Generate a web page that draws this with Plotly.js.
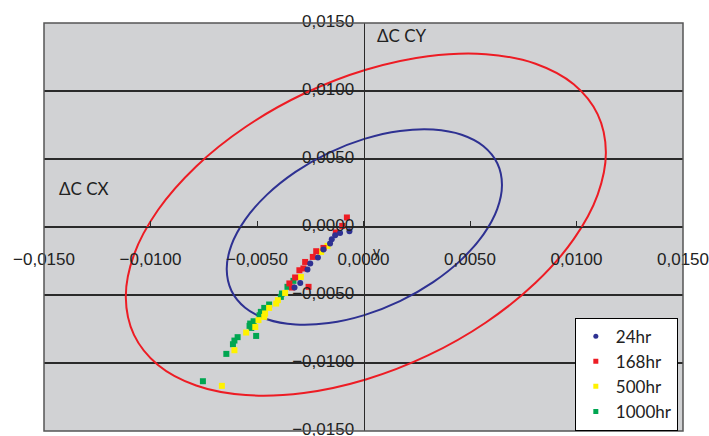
<!DOCTYPE html>
<html>
<head>
<meta charset="utf-8">
<script src="https://cdn.plot.ly/plotly-3.0.1.min.js"></script>
<style>html,body{margin:0;padding:0;background:#fff;}#chart{width:709px;height:436px;}</style>
</head>
<body>
<div id="chart"></div>
<script>
// Tick values (both axes)
var tickValues = [-0.015, -0.010, -0.005, 0.000, 0.005, 0.010, 0.015];

// Series: 24hr
var x24 = [-0.00066, -0.00110, -0.00133, -0.00149, -0.00157, -0.00188, -0.00214, -0.00250, -0.00263, -0.00297, -0.00324];
var y24 = [-0.00031, -0.00045, -0.00060, -0.00090, -0.00121, -0.00165, -0.00224, -0.00268, -0.00313, -0.00411, -0.00445];

// Series: 168hr
var x168 = [-0.00078, -0.00100, -0.00130, -0.00188, -0.00222, -0.00238, -0.00274, -0.00282, -0.00301, -0.00321, -0.00348, -0.00258, -0.00336];
var y168 = [0.00070, 0.00008, -0.00040, -0.00154, -0.00178, -0.00220, -0.00257, -0.00305, -0.00318, -0.00371, -0.00415, -0.00440, -0.00445];

// Series: 500hr
var x500 = [-0.00169, -0.00199, -0.00294, -0.00368, -0.00402, -0.00410, -0.00443, -0.00462, -0.00466, -0.00493, -0.00508, -0.00551, -0.00606, -0.00665];
var y500 = [-0.00139, -0.00183, -0.00367, -0.00485, -0.00538, -0.00563, -0.00595, -0.00636, -0.00661, -0.00685, -0.00735, -0.00776, -0.00906, -0.01168];

// Series: 1000hr
var x1000 = [-0.00329, -0.00357, -0.00383, -0.00388, -0.00443, -0.00466, -0.00482, -0.00488, -0.00516, -0.00532, -0.00535, -0.00527, -0.00504, -0.00591, -0.00606, -0.00613, -0.00644, -0.00754];
var y1000 = [-0.00396, -0.00440, -0.00489, -0.00514, -0.00570, -0.00595, -0.00624, -0.00649, -0.00693, -0.00710, -0.00727, -0.00742, -0.00801, -0.00810, -0.00835, -0.00862, -0.00933, -0.01134];

// Blue ellipse outline
var blueEllX = [0.006501, 0.006281, 0.005635, 0.004609, 0.003271, 0.001712, 0.000040, -0.001632, -0.003191, -0.004529, -0.005555, -0.006201, -0.006421, -0.006201, -0.005555, -0.004529, -0.003191, -0.001632, 0.000040, 0.001712, 0.003271, 0.004609, 0.005635, 0.006281];
var blueEllY = [0.003113, 0.001330, -0.000544, -0.002380, -0.004054, -0.005452, -0.006479, -0.007064, -0.007168, -0.006782, -0.005936, -0.004684, -0.003113, -0.001330, 0.000544, 0.002380, 0.004054, 0.005452, 0.006479, 0.007064, 0.007168, 0.006782, 0.005936, 0.004684];

// Red ellipse outline
var redEllX = [0.011379, 0.010995, 0.009869, 0.008078, 0.005745, 0.003026, 0.000110, -0.002806, -0.005525, -0.007858, -0.009649, -0.010775, -0.011159, -0.010775, -0.009649, -0.007858, -0.005525, -0.002806, 0.000110, 0.003026, 0.005745, 0.008078, 0.009869, 0.010995];
var redEllY = [0.005514, 0.002384, -0.000896, -0.004103, -0.007019, -0.009445, -0.011214, -0.012207, -0.012357, -0.011653, -0.010142, -0.007928, -0.005162, -0.002032, 0.001248, 0.004455, 0.007371, 0.009797, 0.011566, 0.012559, 0.012709, 0.012005, 0.010494, 0.008280];

function closed(a){ return a.concat([a[0]]); }

var sqSize = 6;
var traces = [
  {x: closed(redEllX), y: closed(redEllY), mode: 'lines', line: {color: '#ed1c24', width: 2, shape: 'spline'}, showlegend: false, hoverinfo: 'skip'},
  {x: closed(blueEllX), y: closed(blueEllY), mode: 'lines', line: {color: '#2e3192', width: 2, shape: 'spline'}, showlegend: false, hoverinfo: 'skip'},
  {x: x1000, y: y1000, name: '1000hr', mode: 'markers', marker: {symbol: 'square', size: sqSize, color: '#00a651'}, showlegend: false},
  {x: x500, y: y500, name: '500hr', mode: 'markers', marker: {symbol: 'square', size: sqSize, color: '#fff200'}, showlegend: false},
  {x: x168, y: y168, name: '168hr', mode: 'markers', marker: {symbol: 'square', size: sqSize, color: '#ed1c24'}, showlegend: false},
  {x: x24, y: y24, name: '24hr', mode: 'markers', marker: {symbol: 'circle', size: 6, color: '#2e3192'}, showlegend: false},
  // legend entries in reference order
  {x: [null], y: [null], name: '24hr', mode: 'markers', marker: {symbol: 'circle', size: 5, color: '#2e3192'}},
  {x: [null], y: [null], name: '168hr', mode: 'markers', marker: {symbol: 'square', size: 5, color: '#ed1c24'}},
  {x: [null], y: [null], name: '500hr', mode: 'markers', marker: {symbol: 'square', size: 5, color: '#fff200'}},
  {x: [null], y: [null], name: '1000hr', mode: 'markers', marker: {symbol: 'square', size: 5, color: '#00a651'}}
];

var tickFont = {family: 'Liberation Sans, Arial, sans-serif', size: 17, color: '#222'};
var labelFont = {family: 'Lato, Liberation Sans, sans-serif', size: 17, color: '#222'};

var layout = {
  width: 709, height: 436,
  margin: {l: 44, r: 26, t: 23, b: 5, pad: 0},
  paper_bgcolor: '#ffffff',
  plot_bgcolor: '#d1d2d4',
  separators: ', ',
  showlegend: true,
  legend: {
    x: 0.9919, y: 0.278, xanchor: 'right', yanchor: 'top',
    bgcolor: '#ffffff', bordercolor: '#000000', borderwidth: 1,
    font: labelFont, tracegroupgap: 0
  },
  xaxis: {
    range: [-0.0150001, 0.0150001],
    anchor: 'free', position: 0.5,
    tickvals: tickValues, tickformat: '.4f',
    showline: true, linecolor: '#2a2a2a', linewidth: 1.3,
    ticks: 'inside', ticklen: 6, tickcolor: '#2a2a2a', tickwidth: 1,
    showgrid: false, zeroline: false,
    tickfont: tickFont, ticklabelstandoff: 16, ticklabeloverflow: 'allow',
    automargin: false, fixedrange: true
  },
  yaxis: {
    range: [-0.0150001, 0.0150001],
    anchor: 'free', position: 0.5,
    tickvals: tickValues, tickformat: '.4f',
    showline: true, linecolor: '#2a2a2a', linewidth: 1.3,
    ticks: '', showgrid: true, gridcolor: '#2a2a2a', gridwidth: 1.3,
    zeroline: false,
    tickfont: tickFont, ticklabelstandoff: 6, ticklabelshift: -2, ticklabeloverflow: 'allow',
    automargin: false, fixedrange: true
  },
  shapes: [
    {type: 'rect', xref: 'paper', yref: 'paper', x0: 0, x1: 1, y0: 0, y1: 1,
     line: {color: '#555555', width: 1.5}, layer: 'above'}
  ],
  annotations: [
    {text: 'ΔC CX', x: -0.0131, y: 0.00285, xref: 'x', yref: 'y', showarrow: false, font: labelFont},
    {text: 'ΔC CY', x: 0.0018, y: 0.0141, xref: 'x', yref: 'y', showarrow: false, font: labelFont},
    {text: 'y', x: 0.00059, y: -0.00185, xref: 'x', yref: 'y', showarrow: false, font: {family: 'Liberation Sans, Arial, sans-serif', size: 14, color: '#222'}}
  ]
};

Plotly.newPlot('chart', traces, layout, {displayModeBar: false, staticPlot: true});
</script>
</body>
</html>
